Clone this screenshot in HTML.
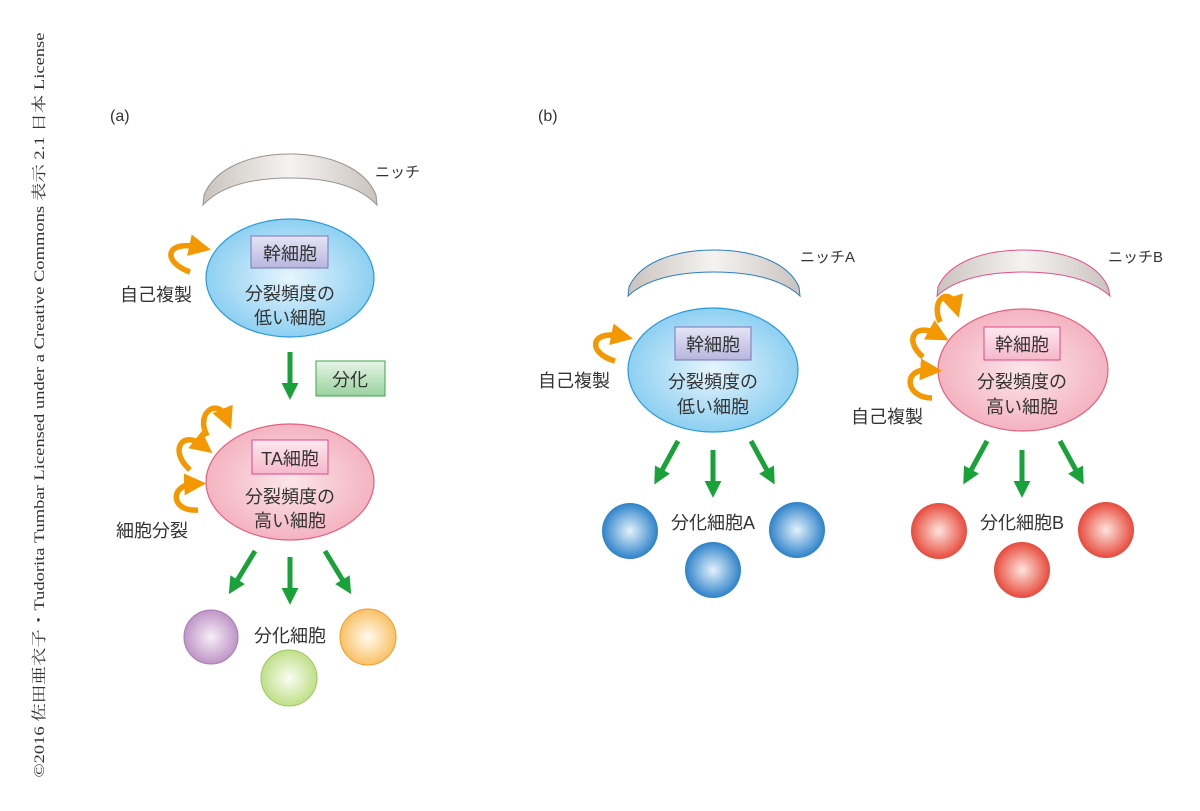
<!DOCTYPE html>
<html><head><meta charset="utf-8"><style>body{margin:0;background:#fff}svg{display:block}text{font-family:"Liberation Sans","Noto Sans CJK JP",sans-serif;fill:#333}</style></head>
<body>
<svg width="1200" height="811" viewBox="0 0 1200 811" xmlns="http://www.w3.org/2000/svg">
<defs>
<radialGradient id="gBlue" cx="50%" cy="50%" r="60%"><stop offset="0" stop-color="#e6f5fd"/><stop offset="1" stop-color="#7cc8ef"/></radialGradient>
<radialGradient id="gPink" cx="50%" cy="50%" r="60%"><stop offset="0" stop-color="#fbe6ea"/><stop offset="1" stop-color="#f2a9b8"/></radialGradient>
<linearGradient id="gNiche" x1="0" y1="0" x2="1" y2="0"><stop offset="0" stop-color="#c9c3be"/><stop offset="0.5" stop-color="#f5f3f1"/><stop offset="1" stop-color="#c9c3be"/></linearGradient>
<linearGradient id="gBoxB" x1="0" y1="0" x2="0" y2="1"><stop offset="0" stop-color="#e6e4f4"/><stop offset="1" stop-color="#b9b6df"/></linearGradient>
<linearGradient id="gBoxP" x1="0" y1="0" x2="0" y2="1"><stop offset="0" stop-color="#fde8ef"/><stop offset="1" stop-color="#f5b8cb"/></linearGradient>
<linearGradient id="gBoxG" x1="0" y1="0" x2="0" y2="1"><stop offset="0" stop-color="#e6f4e6"/><stop offset="1" stop-color="#9ad29e"/></linearGradient>
<radialGradient id="cBlue" cx="50%" cy="50%" r="55%"><stop offset="0" stop-color="#e4f2fb"/><stop offset="1" stop-color="#1a76c4"/></radialGradient>
<radialGradient id="cRed" cx="50%" cy="50%" r="55%"><stop offset="0" stop-color="#fde4dc"/><stop offset="1" stop-color="#e53a2c"/></radialGradient>
<radialGradient id="cPur" cx="50%" cy="50%" r="55%"><stop offset="0" stop-color="#f7eef7"/><stop offset="1" stop-color="#b98cc2"/></radialGradient>
<radialGradient id="cGrn" cx="50%" cy="50%" r="55%"><stop offset="0" stop-color="#fbfdf3"/><stop offset="1" stop-color="#b9dc7d"/></radialGradient>
<radialGradient id="cOrg" cx="50%" cy="50%" r="55%"><stop offset="0" stop-color="#fffbf0"/><stop offset="1" stop-color="#f8bb57"/></radialGradient>
<marker id="ah" viewBox="0 0 10 10" refX="4" refY="5" markerWidth="4" markerHeight="4" orient="auto"><path d="M0,0 L10,5 L0,10 Z" fill="#f39800"/></marker>
<marker id="gh" viewBox="0 0 10 10" refX="3" refY="5" markerWidth="3.4" markerHeight="4.2" orient="auto"><path d="M0,0 L10,5 L0,10 Z" fill="#1aa23a"/></marker>
</defs>

<text x="44" y="405" transform="rotate(-90 44 405)" text-anchor="middle" style="font-family:'Liberation Serif','Noto Serif CJK SC',serif;font-size:15px" textLength="745" lengthAdjust="spacingAndGlyphs">©2016 佐田亜衣子・Tudorita Tumbar Licensed under a Creative Commons 表示 2.1 日本 License</text>

<text x="110" y="121" font-size="16">(a)</text>
<text x="538" y="121" font-size="16">(b)</text>

<!-- (a) -->
<path d="M203,205 L204,195 C215,168 250,154 290,154 C330,154 365,168 376,195 L377,205 C360,187 330,178 290,178 C250,178 220,187 203,205 Z" fill="url(#gNiche)" stroke="#9a9390" stroke-width="1"/>
<text x="375" y="177" font-size="15">ニッチ</text>
<ellipse cx="290" cy="278" rx="84" ry="59" fill="url(#gBlue)" stroke="#2a9ad8" stroke-width="1.2"/>
<rect x="251" y="236" width="77" height="32" fill="url(#gBoxB)" stroke="#7a76b8"/>
<text x="290" y="260" font-size="18" text-anchor="middle">幹細胞</text>
<text x="290" y="300" font-size="18" text-anchor="middle">分裂頻度の</text>
<text x="290" y="324" font-size="18" text-anchor="middle">低い細胞</text>
<path d="M190,272 C162,262 165,240 198,247" fill="none" stroke="#f39800" stroke-width="5.5" marker-end="url(#ah)"/>
<text x="120" y="301" font-size="18">自己複製</text>

<path d="M290,352 L290,388" stroke="#1aa23a" stroke-width="5" marker-end="url(#gh)"/>
<rect x="316" y="361" width="69" height="35" fill="url(#gBoxG)" stroke="#3aa54a"/>
<text x="350" y="386" font-size="18" text-anchor="middle">分化</text>

<ellipse cx="290" cy="482" rx="84" ry="58" fill="url(#gPink)" stroke="#e4607e" stroke-width="1.2"/>
<rect x="252" y="440" width="76" height="34" fill="url(#gBoxP)" stroke="#e2468a"/>
<text x="290" y="465" font-size="18" text-anchor="middle">TA細胞</text>
<text x="290" y="503" font-size="18" text-anchor="middle">分裂頻度の</text>
<text x="290" y="527" font-size="18" text-anchor="middle">高い細胞</text>
<path d="M207,436 C195,412 218,398 226,417" fill="none" stroke="#f39800" stroke-width="5.5" marker-end="url(#ah)"/>
<path d="M190,470 C168,450 183,430 202,445" fill="none" stroke="#f39800" stroke-width="5.5" marker-end="url(#ah)"/>
<path d="M198,510 C170,512 170,485 193,484" fill="none" stroke="#f39800" stroke-width="5.5" marker-end="url(#ah)"/>
<text x="116" y="537" font-size="18">細胞分裂</text>

<path d="M255,551 L235,584" stroke="#1aa23a" stroke-width="5" marker-end="url(#gh)"/>
<path d="M290,557 L290,593" stroke="#1aa23a" stroke-width="5" marker-end="url(#gh)"/>
<path d="M325,551 L345,584" stroke="#1aa23a" stroke-width="5" marker-end="url(#gh)"/>
<circle cx="211" cy="637" r="27" fill="url(#cPur)" stroke="#a77db3"/>
<circle cx="289" cy="678" r="28" fill="url(#cGrn)" stroke="#9bc95a"/>
<circle cx="368" cy="637" r="28" fill="url(#cOrg)" stroke="#f09a2a"/>
<text x="290" y="642" font-size="18" text-anchor="middle">分化細胞</text>

<!-- (b) A -->
<path d="M628,296 L629,287 C640,262 675,250 714,250 C753,250 788,262 799,287 L800,296 C783,280 753,272 714,272 C675,272 645,280 628,296 Z" fill="url(#gNiche)" stroke="#2c7fc0" stroke-width="1"/>
<text x="800" y="262" font-size="15">ニッチA</text>
<ellipse cx="713" cy="370" rx="85" ry="62" fill="url(#gBlue)" stroke="#2a9ad8" stroke-width="1.2"/>
<rect x="675" y="327" width="76" height="33" fill="url(#gBoxB)" stroke="#7a76b8"/>
<text x="713" y="351" font-size="18" text-anchor="middle">幹細胞</text>
<text x="713" y="388" font-size="18" text-anchor="middle">分裂頻度の</text>
<text x="713" y="413" font-size="18" text-anchor="middle">低い細胞</text>
<path d="M615,361 C587,353 590,330 620,336" fill="none" stroke="#f39800" stroke-width="5.5" marker-end="url(#ah)"/>
<text x="538" y="387" font-size="18">自己複製</text>
<path d="M678,441 L660,474" stroke="#1aa23a" stroke-width="5" marker-end="url(#gh)"/>
<path d="M713,450 L713,486" stroke="#1aa23a" stroke-width="5" marker-end="url(#gh)"/>
<path d="M751,441 L769,474" stroke="#1aa23a" stroke-width="5" marker-end="url(#gh)"/>
<circle cx="630" cy="531" r="28" fill="url(#cBlue)"/>
<circle cx="797" cy="530" r="28" fill="url(#cBlue)"/>
<circle cx="713" cy="570" r="28" fill="url(#cBlue)"/>
<text x="713" y="529" font-size="18" text-anchor="middle">分化細胞A</text>

<!-- (b) B -->
<path d="M937,296 L938,287 C949,262 984,250 1023,250 C1062,250 1097,262 1108,287 L1110,296 C1092,280 1062,272 1023,272 C984,272 954,280 937,296 Z" fill="url(#gNiche)" stroke="#e4508a" stroke-width="1"/>
<text x="1108" y="262" font-size="15">ニッチB</text>
<ellipse cx="1023" cy="370" rx="85" ry="61" fill="url(#gPink)" stroke="#e4607e" stroke-width="1.2"/>
<rect x="984" y="327" width="76" height="33" fill="url(#gBoxP)" stroke="#e2468a"/>
<text x="1022" y="351" font-size="18" text-anchor="middle">幹細胞</text>
<text x="1022" y="388" font-size="18" text-anchor="middle">分裂頻度の</text>
<text x="1022" y="413" font-size="18" text-anchor="middle">高い細胞</text>
<path d="M940,322 C930,298 950,288 955,305" fill="none" stroke="#f39800" stroke-width="5.5" marker-end="url(#ah)"/>
<path d="M923,357 C903,340 915,322 937,334" fill="none" stroke="#f39800" stroke-width="5.5" marker-end="url(#ah)"/>
<path d="M932,398 C905,398 902,368 929,370" fill="none" stroke="#f39800" stroke-width="5.5" marker-end="url(#ah)"/>
<text x="851" y="423" font-size="18">自己複製</text>
<path d="M987,441 L969,474" stroke="#1aa23a" stroke-width="5" marker-end="url(#gh)"/>
<path d="M1022,450 L1022,486" stroke="#1aa23a" stroke-width="5" marker-end="url(#gh)"/>
<path d="M1060,441 L1078,474" stroke="#1aa23a" stroke-width="5" marker-end="url(#gh)"/>
<circle cx="939" cy="531" r="28" fill="url(#cRed)"/>
<circle cx="1106" cy="530" r="28" fill="url(#cRed)"/>
<circle cx="1022" cy="570" r="28" fill="url(#cRed)"/>
<text x="1022" y="529" font-size="18" text-anchor="middle">分化細胞B</text>
</svg>
</body></html>
